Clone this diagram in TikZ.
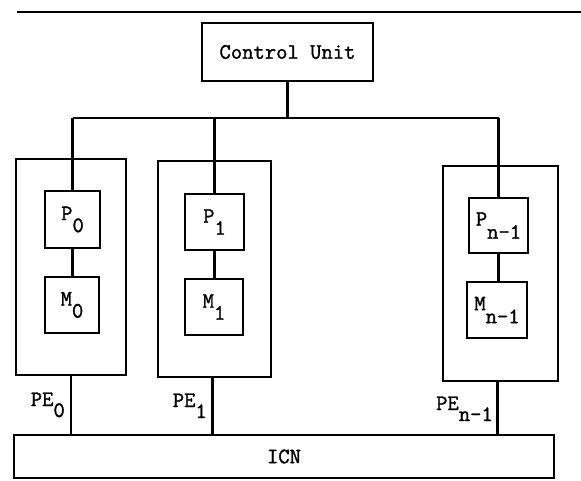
\documentclass[tikz,border=0pt]{standalone}
\usepackage{fontspec}
\setmonofont{Latin Modern Mono}[FakeBold=1.4]
\begin{document}
\begin{tikzpicture}[x=1pt,y=-1pt,
  box/.style={draw, line width=2pt, inner sep=0pt, font=\ttfamily\fontsize{22}{22}\selectfont},
  wire/.style={line width=2.4pt},
  lbl/.style={inner sep=0pt, font=\ttfamily\fontsize{22}{22}\selectfont}]
\useasboundingbox (0,0) rectangle (581,481);
\draw[line width=2pt] (17,12) -- (581,12);
\coordinate (bus) at (0,118);
% control unit
\node[box, minimum width=171pt, minimum height=58pt] (cu) at (287.5,52) {Control Unit};
% processing elements
\node[box, minimum width=110pt, minimum height=216pt] (o0) at (71,267) {};
\node[box, minimum width=55pt, minimum height=57pt] (p0) at (72.5,219.5) {P\raisebox{-12pt}{0}};
\node[box, minimum width=54pt, minimum height=56pt] (m0) at (72,305) {M\raisebox{-12pt}{0}};
\node[box, minimum width=113pt, minimum height=216pt] (o1) at (214.5,269) {};
\node[box, minimum width=59pt, minimum height=56pt] (p1) at (214.5,222) {P\raisebox{-12pt}{1}};
\node[box, minimum width=58pt, minimum height=56pt] (m1) at (214,307) {M\raisebox{-12pt}{1}};
\node[box, minimum width=115pt, minimum height=215pt] (on) at (500.5,273.5) {};
\node[box, minimum width=59pt, minimum height=55pt] (pn) at (498.5,225.5) {P\raisebox{-13pt}{n-1}};
\node[box, minimum width=60pt, minimum height=56pt] (mn) at (497,310) {M\raisebox{-13pt}{n-1}};
% interconnection network
\node[box, minimum width=540pt, minimum height=43pt] (icn) at (284,456.5) {ICN};
% labels
\node[lbl, anchor=base east] (l0) at (65,406) {PE\raisebox{-11pt}{0}};
\node[lbl, anchor=base east] (l1) at (207,407) {PE\raisebox{-11pt}{1}};
\node[lbl, anchor=base east] (ln) at (493,410) {PE\raisebox{-11pt}{n-1}};
% connectors
\draw[wire] (cu.south) -- (cu.south |- bus);
\draw[wire] (p0.north |- bus) -- (pn.north |- bus);
\draw[wire] (p0.north |- bus) -- (p0.north);
\draw[wire] (p1.north |- bus) -- (p1.north);
\draw[wire] (pn.north |- bus) -- (pn.north);
\draw[wire] (p0.south) -- (p0.south |- m0.north);
\draw[wire] (p1.south) -- (p1.south |- m1.north);
\draw[wire] (pn.south) -- (pn.south |- mn.north);
\draw[wire] (o0.south) -- (o0.south |- icn.north);
\draw[wire] ([xshift=-2pt]o1.south) -- ([xshift=-2pt]o1.south |- icn.north);
\draw[wire] ([xshift=-3pt]on.south) -- ([xshift=-3pt]on.south |- icn.north);
\end{tikzpicture}
\end{document}
